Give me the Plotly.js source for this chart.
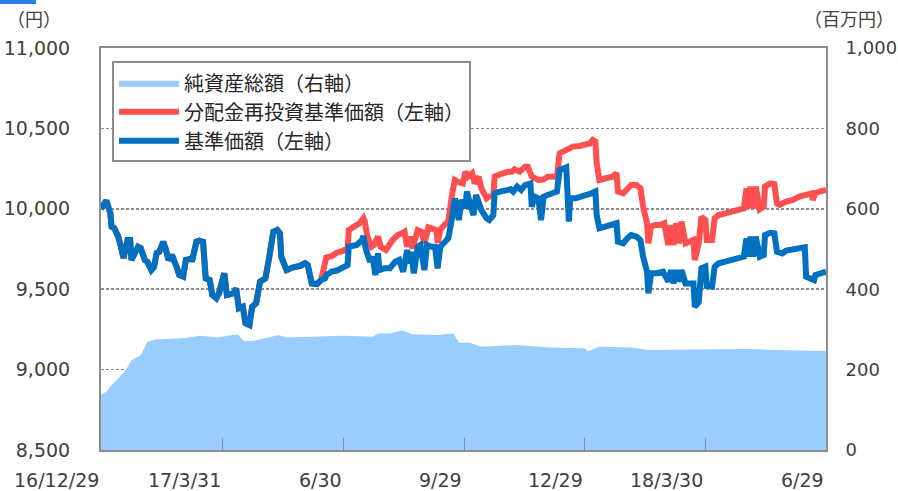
<!DOCTYPE html>
<html>
<head>
<meta charset="utf-8">
<script src="https://cdn.plot.ly/plotly-3.0.1.min.js"></script>
<style>
html,body{margin:0;padding:0;background:#fff;}
#chart{width:898px;height:491px;}
</style>
</head>
<body>
<div id="chart"></div>
<script>
// ---- data ----
// x values are calendar days elapsed since the fund start date
const START_DATE = '2016-12-29';
const END_DATE = '2018-06-29';

// period where 分配金再投資基準価額 and 基準価額 coincide
const sharedDays = [0,4,7,8,10,13,15,17,20,22,23,25,28,30,33,35,38,40,42,44,47,49,51,53,54,57,59,62,64,67,69,72,74,77,78,79,82,84,87,89,93,95,100,102,104,107,109,112,114,117,120,124,127,130,133,135,136,140,145,150,154,156,159,163,166];
const sharedVals = [10000,10050,9974,9889,9880,9827,9764,9694,9806,9806,9682,9725,9764,9756,9682,9671,9619,9638,9725,9733,9795,9744,9682,9702,9702,9640,9588,9578,9682,9688,9686,9795,9802,9795,9661,9567,9557,9464,9443,9474,9599,9464,9474,9505,9381,9391,9288,9277,9391,9412,9547,9567,9702,9857,9868,9847,9702,9619,9636,9644,9661,9650,9536,9532,9557];

// 基準価額 (left axis, yen) after the first distribution
const navDays = [169,170,174,178,182,184,186,187,193,197,198,200,203,205,207,209,210,214,218,222,225,228,231,233,234,236,239,241,244,246,249,252,254,256,258,260,262,265,267,270,272,275,276,278,281,283,285,287,291,293,296,297,301,305,309,311,314,317,320,324,325,327,330,332,334,337,341,344,346,349,351,353,354,358,363,368,370,373,374,376,381,386,389,390,394,397,400,404,407,409,412,413,415,419,424,428,430,432,434,436,438,441,444,447,448,451,453,456,457,461,463,466,471,476,481,485,487,488,490,492,494,497,500,501,505,508,510,514,517,522,527,531,532,535,538,539,542,547];
const navVals = [9567,9588,9609,9616,9630,9636,9650,9764,9775,9806,9831,9744,9671,9702,9588,9723,9619,9630,9630,9671,9682,9609,9744,9661,9733,9599,9764,9775,9619,9775,9764,9764,9630,9764,9785,9806,9816,9951,10065,9930,10055,10003,10107,10045,9961,10086,10045,9992,9941,9930,9961,10096,10107,10117,10121,10107,10138,10117,10148,10158,10013,10076,10065,9930,10076,10086,10096,10107,10241,10246,10258,9920,10065,10065,10076,10086,10096,10107,9961,9879,9889,9899,9910,9795,9785,9816,9837,9827,9806,9702,9609,9474,9599,9599,9609,9547,9619,9536,9619,9547,9619,9536,9536,9536,9391,9420,9630,9640,9520,9516,9640,9661,9671,9682,9692,9702,9816,9702,9827,9702,9827,9702,9713,9837,9851,9847,9733,9723,9740,9748,9754,9761,9578,9567,9557,9588,9599,9609];

// 分配金再投資基準価額 (left axis, yen) after the first distribution
const reinvDays = [168,170,174,178,183,186,187,192,195,198,199,201,204,206,209,211,215,220,224,227,229,231,233,235,239,242,244,247,249,253,254,256,259,262,265,267,270,273,275,277,280,282,285,287,291,293,296,297,300,303,307,310,312,316,320,322,325,330,334,337,341,344,346,349,353,356,361,365,368,369,371,373,374,376,381,386,389,390,394,397,400,404,407,409,412,413,415,418,422,425,428,430,432,434,436,438,441,444,447,448,451,453,456,457,461,463,466,471,476,481,485,487,488,490,492,494,497,500,501,505,508,510,512,517,522,527,532,536,537,539,542,547];
const reinvVals = [9650,9698,9706,9727,9740,9754,9868,9889,9910,9941,9920,9827,9764,9775,9827,9764,9744,9806,9837,9847,9857,9764,9827,9754,9868,9857,9785,9884,9878,9868,9790,9870,9899,9920,10096,10179,10165,10158,10231,10200,10221,10158,10200,10127,10065,10076,10080,10200,10210,10221,10231,10231,10246,10231,10262,10262,10200,10179,10183,10200,10200,10200,10345,10356,10366,10387,10391,10397,10403,10407,10428,10418,10283,10179,10190,10200,10221,10107,10096,10127,10148,10148,10127,10013,9910,9785,9889,9899,9899,9910,9775,9899,9775,9910,9785,9920,9785,9795,9806,9682,9785,9951,9930,9806,9806,9941,9961,9972,9982,9992,10003,10127,10003,10138,10003,10138,9997,10013,10138,10158,10154,10034,10024,10045,10055,10076,10086,10096,10055,10096,10107,10117];

// 純資産総額 (right axis, million yen)
const assetDays = [0,4,8,13,19,23,30,34,35,41,54,62,75,88,103,108,114,123,134,140,162,183,205,209,218,227,235,253,266,270,278,287,313,339,365,367,376,400,413,443,487,508,532,547];
const assetVals = [138,145,162,178,200,224,236,265,269,275,278,278,284,280,288,271,271,278,286,280,282,284,282,290,290,298,288,286,290,267,267,257,261,255,253,245,257,255,249,250,251,249,247,246];

const seriesNames = ['純資産総額（右軸）', '分配金再投資基準価額（左軸）', '基準価額（左軸）'];
const tickDates = ['2016-12-29','2017-03-31','2017-06-30','2017-09-29','2017-12-29','2018-03-30','2018-06-29'];
const tickLabels = ['16/12/29','17/3/31','6/30','9/29','12/29','18/3/30','6/29'];
const leftTicks = [8500,9000,9500,10000,10500,11000];
const rightTicks = [0,200,400,600,800,1000];
const leftUnit = '（円）';
const rightUnit = '（百万円）';

// ---- build ----
function toDate(d){
  const t = Date.UTC(2016,11,29) + d*86400000;
  return new Date(t).toISOString().slice(0,10);
}
const navX = sharedDays.concat(navDays).map(toDate);
const navY = sharedVals.concat(navVals);
const reinvX = sharedDays.concat(reinvDays).map(toDate);
const reinvY = sharedVals.concat(reinvVals);
const assetX = assetDays.map(toDate);

const NUM_FONT = 'DejaVu Sans, Verdana, sans-serif';
const CJK_FONT = 'Noto Sans CJK JP, sans-serif';
const AX_COL = '#8c8c8c';
const TXT_COL = '#404040';

const traces = [
  {type:'scatter', mode:'lines', name:seriesNames[0], x:assetX, y:assetVals, yaxis:'y',
   fill:'tozeroy', fillcolor:'#99CCFF', line:{width:0, color:'#99CCFF'}},
  {type:'scatter', mode:'lines', name:seriesNames[1], x:reinvX, y:reinvY, yaxis:'y2',
   line:{width:6, color:'#FF5050'}},
  {type:'scatter', mode:'lines', name:seriesNames[2], x:navX, y:navY, yaxis:'y2',
   line:{width:6, color:'#0070C0'}}
];

const annotations = tickDates.map((d,i)=>({
  x:d, xref:'x', y:0, yref:'paper', yshift:-30,
  text:tickLabels[i], showarrow:false, xanchor:'right', yanchor:'middle',
  font:{family:NUM_FONT, size:19, color:TXT_COL}
}));
annotations.push({x:-0.0924, xref:'paper', y:1.0746, yref:'paper', text:leftUnit, showarrow:false,
  xanchor:'center', yanchor:'middle', font:{family:CJK_FONT, size:18, color:TXT_COL}});
annotations.push({x:1.0966, xref:'paper', y:1.0746, yref:'paper', text:rightUnit, showarrow:false,
  xanchor:'right', yanchor:'middle', font:{family:CJK_FONT, size:18, color:TXT_COL}});

const layout = {
  width:898, height:491,
  margin:{l:101, r:72, t:48, b:41},
  paper_bgcolor:'#fff', plot_bgcolor:'#fff',
  showlegend:true,
  legend:{x:0.0152, y:0.967, xanchor:'left', yanchor:'top', bgcolor:'#fff',
    bordercolor:AX_COL, borderwidth:2, traceorder:'normal', itemwidth:60,
    font:{family:CJK_FONT, size:20, color:'#262626'}},
  xaxis:{type:'date', range:[START_DATE, END_DATE], showgrid:false, zeroline:false,
    showline:true, linecolor:AX_COL, linewidth:2, mirror:true,
    ticks:'inside', ticklen:12, tickwidth:1, tickcolor:AX_COL,
    tickmode:'array', tickvals:tickDates, showticklabels:false},
  yaxis:{side:'right', range:[0,1000], tickmode:'array', tickvals:rightTicks, tickformat:',d',
    showgrid:false, zeroline:false, showline:true, linecolor:AX_COL, linewidth:2,
    ticks:'', ticklabelstandoff:14, tickfont:{family:NUM_FONT, size:18, color:TXT_COL}},
  yaxis2:{overlaying:'y', side:'left', range:[8500,11000], tickmode:'array', tickvals:leftTicks,
    tickformat:',d', showgrid:true, gridcolor:AX_COL, gridwidth:1.5, griddash:'3px,2px',
    zeroline:false, showline:true, linecolor:AX_COL, linewidth:2,
    ticks:'', ticklabelstandoff:25, tickfont:{family:NUM_FONT, size:19, color:TXT_COL}},
  shapes:[{type:'rect', xref:'paper', yref:'paper', x0:-0.1393, x1:-0.0897, y0:1.1095, y1:1.125,
    fillcolor:'#2680E6', line:{width:0}}],
  annotations:annotations
};

Plotly.newPlot('chart', traces, layout, {staticPlot:true, displayModeBar:false});
</script>
</body>
</html>
